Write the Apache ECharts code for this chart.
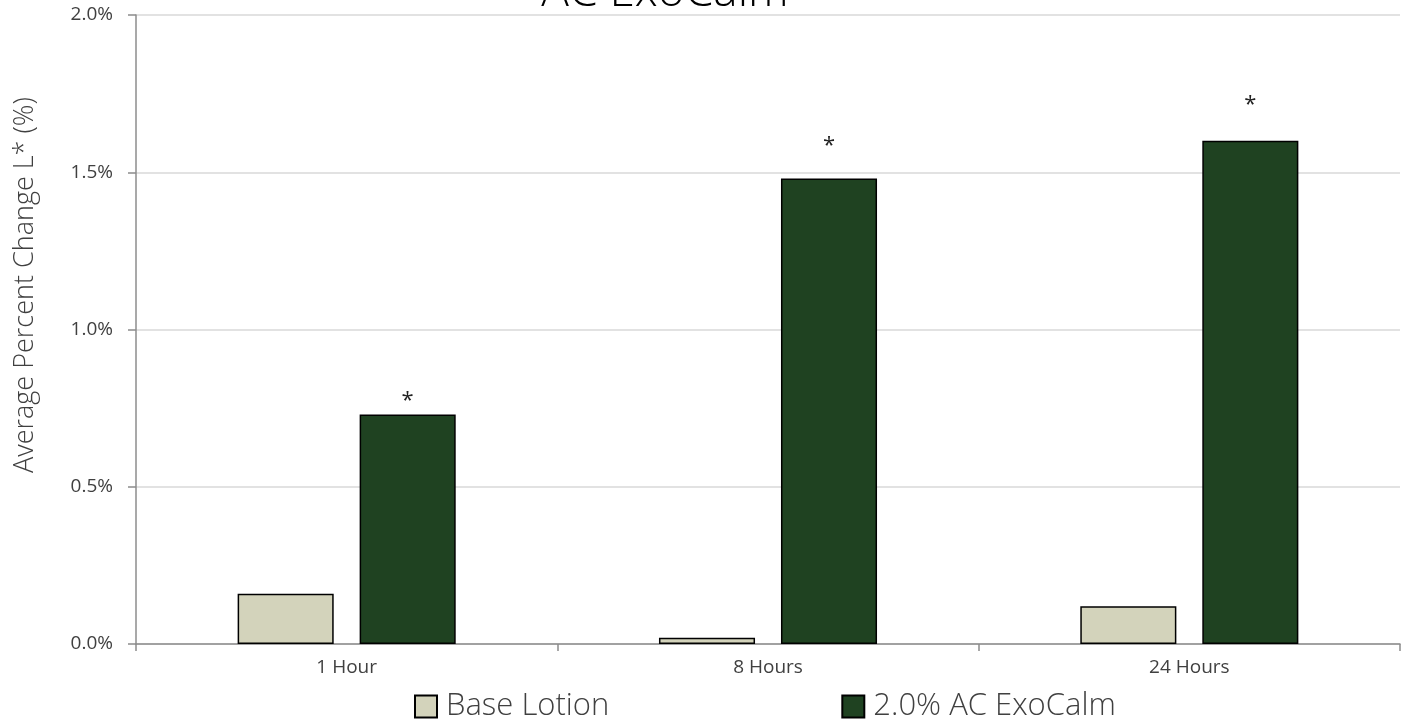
<!DOCTYPE html>
<html>
<head>
<meta charset="utf-8">
<script src="https://cdn.jsdelivr.net/npm/echarts@6/dist/echarts.min.js"></script>
<style>html,body{margin:0;padding:0;background:#fff;}#c{width:1410px;height:724px;}</style>
</head>
<body>
<div id="c"></div>
<script>
const categories = ['1 Hour', '8 Hours', '24 Hours'];
const baseLotion = [0.16, 0.02, 0.12];
const exoCalm = [0.73, 1.48, 1.60];
// level (in %) just under each significance asterisk (top of the hidden error bar)
const exoMarkLevel = [0.74, 1.55, 1.68];
const exoMarks = ['*', '*', '*'];
const seriesNames = ['Base Lotion', '2.0% AC ExoCalm'];
const titleText = 'AC ExoCalm';
const yAxisTitle = 'Average Percent Change L* (%)';

const FONT = '"Open Sans", "Segoe UI", sans-serif';
const chart = echarts.init(document.getElementById('c'));
chart.setOption({
  animation: false,
  backgroundColor: '#fff',
  textStyle: { fontFamily: FONT },
  grid: { left: 136, right: 10, top: 15, bottom: 80 },
  graphic: [
    { type: 'text', x: 665, y: -30, style: { text: titleText, fill: '#000', font: '300 46px ' + FONT, textAlign: 'center' } },
    { type: 'text', rotation: Math.PI / 2, x: 25, y: 285, style: { text: yAxisTitle, fill: '#404040', font: '300 27px ' + FONT, textAlign: 'center', textVerticalAlign: 'middle' } }
  ],
  legend: {
    bottom: -3, left: 409,
    data: seriesNames,
    itemWidth: 22, itemHeight: 22, itemGap: 232,
    textStyle: { fontSize: 31, color: '#404040', fontWeight: 300, fontFamily: FONT, padding: [0, 0, 0, 4] },
    icon: 'rect'
  },
  xAxis: {
    type: 'category', data: categories,
    axisLine: { lineStyle: { color: '#8c8c8c', width: 1.5 } },
    axisTick: { show: true, length: 7, lineStyle: { color: '#8c8c8c', width: 1.5 } },
    axisLabel: { color: '#404040', fontSize: 19, margin: 14 }
  },
  yAxis: {
    type: 'value', min: 0, max: 2.0, interval: 0.5,
    axisLine: { show: true, lineStyle: { color: '#8c8c8c', width: 1.5 } },
    axisTick: { show: true, length: 8, lineStyle: { color: '#8c8c8c', width: 1.5 } },
    splitLine: { lineStyle: { color: '#d9d9d9', width: 1.5 } },
    axisLabel: { color: '#404040', fontSize: 19, margin: 23, formatter: v => v.toFixed(1) + '%' }
  },
  series: [
    {
      name: seriesNames[0], type: 'bar', data: baseLotion,
      barWidth: '22.8%', barGap: '27%',
      itemStyle: { color: '#d3d3bb', borderColor: '#000', borderWidth: 1.5 }
    },
    {
      name: seriesNames[1], type: 'bar', data: exoCalm, stack: 'exo',
      barWidth: '22.8%',
      itemStyle: { color: '#1f4221', borderColor: '#000', borderWidth: 1.5 }
    },
    {
      name: 'marks', type: 'bar', stack: 'exo', barWidth: '22.8%',
      data: exoMarkLevel.map((v, i) => ({ value: v - exoCalm[i], label: { formatter: exoMarks[i] } })),
      itemStyle: { color: 'rgba(0,0,0,0)', borderWidth: 0 },
      label: { show: true, position: 'top', distance: 0, fontSize: 22, color: '#222' },
      silent: true
    }
  ]
});
</script>
</body>
</html>
